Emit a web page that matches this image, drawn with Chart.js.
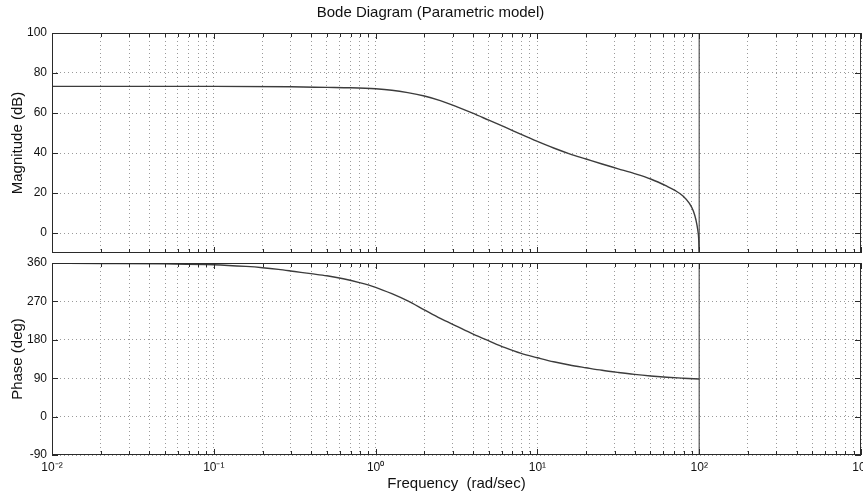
<!DOCTYPE html>
<html>
<head>
<meta charset="utf-8">
<script src="https://cdn.jsdelivr.net/npm/chart.js@4.4.0/dist/chart.umd.min.js"></script>
<style>
html,body{margin:0;padding:0;background:#fff;}
#wrap{position:relative;width:863px;height:495px;overflow:hidden;background:#fff;}
canvas{position:absolute;left:0;}
#c1{top:0;}
#c2{top:250px;}
</style>
</head>
<body>
<div id="wrap">
<canvas id="c1" width="863" height="258"></canvas>
<canvas id="c2" width="863" height="245"></canvas>
</div>
<script>
// ---- text ----
const chartTitle = 'Bode Diagram (Parametric model)';
const xAxisTitle = 'Frequency  (rad/sec)';
const magAxisTitle = 'Magnitude (dB)';
const phaseAxisTitle = 'Phase (deg)';

// ---- tick values / labels ----
const decades = [0.01, 0.1, 1, 10, 100, 1000];
const decadeLabels = ['10\u207B\u00B2', '10\u207B\u00B9', '10\u2070', '10\u00B9', '10\u00B2', '10\u00B3'];
const minorMultipliers = [2, 3, 4, 5, 6, 7, 8, 9];
const magTicks = [0, 20, 40, 60, 80, 100];
const magRange = [-10, 100];
const phaseTicks = [-90, 0, 90, 180, 270, 360];
const phaseRange = [-90, 360];

// ---- series ----
const magFreq = [0.01, 0.1, 0.3, 0.5, 0.7, 1.0, 1.26, 1.58, 2.0, 2.51, 3.16, 3.98, 5.01, 6.31, 7.94, 10, 12.6, 15.8, 20, 25.1, 31.6, 39.8, 50.1, 63.1, 70.8, 79.4, 87, 92, 95.5, 98, 99.3, 100];
const magDb   = [73.3, 73.3, 73.1, 72.8, 72.6, 72.1, 71.4, 70.2, 68.5, 66.2, 63.2, 59.9, 56.4, 52.9, 49.3, 45.8, 42.5, 39.6, 37.0, 34.5, 32.1, 29.7, 27.0, 23.4, 21.3, 18.5, 14.8, 11.0, 6.5, 1.5, -3, -10];
const phaseFreq = [0.01, 0.02, 0.05, 0.1, 0.158, 0.2, 0.251, 0.316, 0.398, 0.5, 0.631, 0.794, 1.0, 1.26, 1.58, 2.0, 2.51, 3.16, 3.98, 5.01, 6.31, 7.94, 10, 12.6, 15.8, 20, 25.1, 31.6, 39.8, 50.1, 63.1, 79.4, 100];
const phaseDeg  = [359.5, 359, 358, 356, 352, 349, 345, 340, 335, 330, 323, 314, 303, 288, 271, 250, 230, 212, 194, 177.5, 161.5, 148, 138, 128.5, 121, 114.5, 108.5, 103.5, 99, 95.3, 92.3, 90, 88];
// vertical jump at the pole (10^2), spanning the full axes
const poleFreq = [100, 100];
const poleMag = [-10, 100];
const polePhase = [-90, 360];

// ---- helpers ----
const xTickValues = [];
decades.forEach((d, i) => {
  xTickValues.push(d);
  if (i < decades.length - 1) minorMultipliers.forEach(m => xTickValues.push(+(d * m).toPrecision(6)));
});
const pts = (xs, ys) => xs.map((x, i) => ({x: x, y: ys[i]}));

const FONT = "'Liberation Sans', Arial, Helvetica, sans-serif";
const TXT = '#111';
const GRID = '#9a9a9a';
const LINE = '#3c3c3c';

const framePlugin = {
  id: 'frame',
  afterDraw(chart) {
    const {ctx, chartArea: a, scales} = chart;
    ctx.save();
    ctx.strokeStyle = '#2a2a2a';
    ctx.lineWidth = 1;
    ctx.strokeRect(Math.round(a.left) + 0.5, Math.round(a.top) + 0.5,
                   Math.round(a.right - a.left) - 1, Math.round(a.bottom - a.top) - 1);
    ctx.beginPath();
    scales.x.ticks.forEach(t => {
      const px = Math.round(scales.x.getPixelForValue(t.value)) + 0.5;
      const len = decades.includes(t.value) ? 6 : 4;
      ctx.moveTo(px, a.bottom); ctx.lineTo(px, a.bottom - len);
      ctx.moveTo(px, a.top); ctx.lineTo(px, a.top + len);
    });
    scales.y.ticks.forEach(t => {
      const py = Math.round(scales.y.getPixelForValue(t.value)) + 0.5;
      ctx.moveTo(a.left, py); ctx.lineTo(a.left + 6, py);
      ctx.moveTo(a.right, py); ctx.lineTo(a.right - 6, py);
    });
    ctx.stroke();
    ctx.restore();
  }
};

function xScale(showLabels) {
  return {
    type: 'logarithmic',
    min: decades[0],
    max: decades[decades.length - 1],
    afterBuildTicks: s => { s.ticks = xTickValues.map(v => ({value: v, major: decades.includes(v)})); },
    afterFit: s => {
      s.paddingLeft = 0; s.paddingRight = 0;
      s.height = showLabels ? 40 : 0;
    },
    ticks: {
      display: showLabels,
      autoSkip: false,
      maxRotation: 0,
      padding: 5,
      color: TXT,
      font: {family: FONT, size: 12},
      callback: v => { const i = decades.indexOf(v); return i >= 0 ? decadeLabels[i] : ''; }
    },
    grid: {color: GRID, lineWidth: 1, drawTicks: false},
    border: {display: false, dash: [1, 3]},
    title: {
      display: showLabels,
      text: xAxisTitle,
      color: TXT,
      font: {family: FONT, size: 15},
      padding: {top: 0, bottom: 2}
    }
  };
}

function yScale(range, tickVals, title) {
  return {
    type: 'linear',
    min: range[0],
    max: range[1],
    afterBuildTicks: s => { s.ticks = tickVals.map(v => ({value: v})); },
    afterFit: s => { s.width = 52; s.paddingTop = 0; s.paddingBottom = 0; },
    ticks: {
      padding: 5,
      color: TXT,
      font: {family: FONT, size: 12},
      callback: v => String(v)
    },
    grid: {color: GRID, lineWidth: 1, drawTicks: false},
    border: {display: false, dash: [1, 3]},
    title: {
      display: true,
      text: title,
      color: TXT,
      font: {family: FONT, size: 15},
      padding: {top: 9, bottom: 0}
    }
  };
}

const lineStyle = {
  borderColor: LINE,
  borderWidth: 1.4,
  pointRadius: 0,
  fill: false,
  cubicInterpolationMode: 'monotone'
};
const poleStyle = {
  borderColor: '#555',
  borderWidth: 1.2,
  pointRadius: 0,
  fill: false,
  tension: 0
};

new Chart(document.getElementById('c1'), {
  type: 'line',
  data: {
    datasets: [
      Object.assign({label: 'Magnitude', data: pts(magFreq, magDb)}, lineStyle),
      Object.assign({label: 'pole', data: pts(poleFreq, poleMag)}, poleStyle)
    ]
  },
  options: {
    responsive: false,
    animation: false,
    devicePixelRatio: 1,
    layout: {padding: {top: 0, right: 2, bottom: 5, left: 0}},
    plugins: {
      legend: {display: false},
      tooltip: {enabled: false},
      title: {
        display: true,
        text: chartTitle,
        color: TXT,
        font: {family: FONT, size: 15, weight: 'normal'},
        padding: {top: 4, bottom: 11}
      }
    },
    scales: {x: xScale(false), y: yScale(magRange, magTicks, magAxisTitle)}
  },
  plugins: [framePlugin]
});

new Chart(document.getElementById('c2'), {
  type: 'line',
  data: {
    datasets: [
      Object.assign({label: 'Phase', data: pts(phaseFreq, phaseDeg)}, lineStyle),
      Object.assign({label: 'pole', data: pts(poleFreq, polePhase)}, poleStyle)
    ]
  },
  options: {
    responsive: false,
    animation: false,
    devicePixelRatio: 1,
    layout: {padding: {top: 13, right: 2, bottom: 0, left: 0}},
    plugins: {legend: {display: false}, tooltip: {enabled: false}},
    scales: {x: xScale(true), y: yScale(phaseRange, phaseTicks, phaseAxisTitle)}
  },
  plugins: [framePlugin]
});
</script>
</body>
</html>
